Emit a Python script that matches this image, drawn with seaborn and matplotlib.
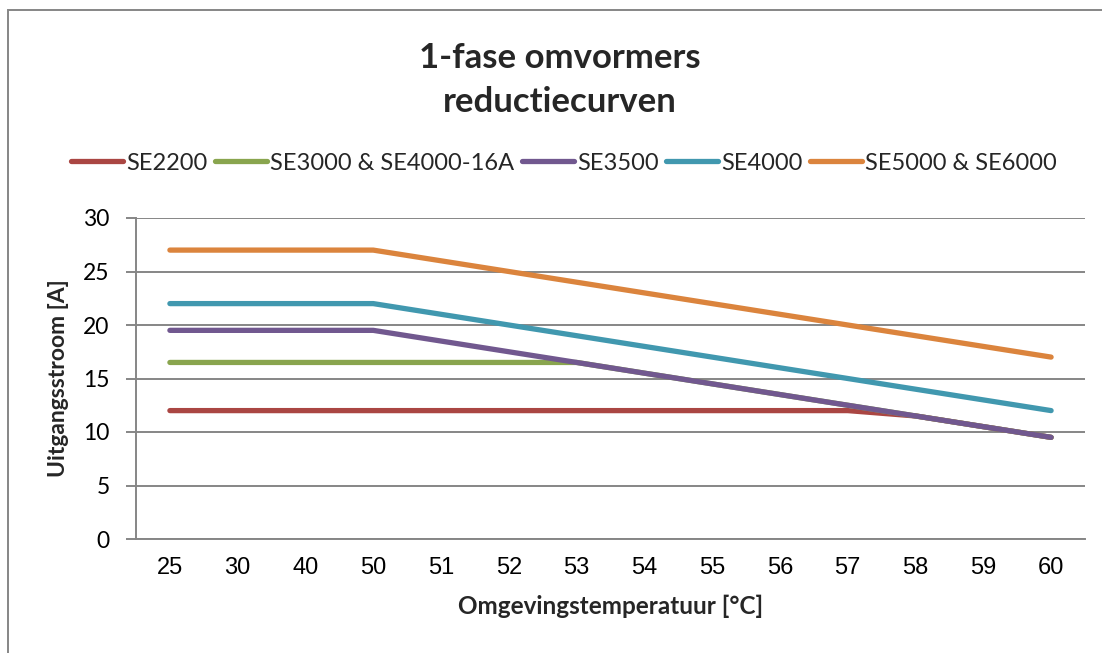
import pandas as pd
import matplotlib.pyplot as plt
import seaborn as sns
from matplotlib.patches import Rectangle

# Data (categorical x axis, as in Excel)
temperatures = ['25', '30', '40', '50', '51', '52', '53', '54', '55', '56', '57', '58', '59', '60']

se2200 = [12, 12, 12, 12, 12, 12, 12, 12, 12, 12, 12, 11.5, 10.5, 9.5]
se3000 = [16.5, 16.5, 16.5, 16.5, 16.5, 16.5, 16.5, 15.5, 14.5, 13.5, 12.5, 11.5, 10.5, 9.5]
se3500 = [19.5, 19.5, 19.5, 19.5, 18.5, 17.5, 16.5, 15.5, 14.5, 13.5, 12.5, 11.5, 10.5, 9.5]
se4000 = [22, 22, 22, 22, 21, 20, 19, 18, 17, 16, 15, 14, 13, 12]
se5000 = [27, 27, 27, 27, 26, 25, 24, 23, 22, 21, 20, 19, 18, 17]

series_names = ['SE2200', 'SE3000 & SE4000-16A', 'SE3500', 'SE4000', 'SE5000 & SE6000']
series_values = [se2200, se3000, se3500, se4000, se5000]
series_colors = ['#AA4643', '#89A54E', '#71588F', '#4198AF', '#DB843D']

GRID = '#868686'


def setup_style():
    sns.set_theme(style="white")
    plt.rcParams['font.family'] = ['Lato', 'DejaVu Sans']


def plot_reductiecurven():
    setup_style()

    frames = []
    for name, vals in zip(series_names, series_values):
        frames.append(pd.DataFrame({'temp': temperatures, 'stroom': vals, 'serie': name}))
    df = pd.concat(frames, ignore_index=True)

    fig = plt.figure(figsize=(11.02, 6.53), dpi=100)
    ax = fig.add_axes([136 / 1102, 1 - 539 / 653, (1085 - 136) / 1102, (539 - 218) / 653])

    sns.lineplot(data=df, x='temp', y='stroom', hue='serie', hue_order=series_names,
                 palette=series_colors, sort=False, linewidth=3.8, ax=ax,
                 solid_capstyle='round', legend=True)

    ax.set_xlim(-0.5, len(temperatures) - 0.5)
    ax.set_ylim(0, 30)
    ax.set_yticks(range(0, 31, 5))
    ax.yaxis.grid(True, color=GRID, linewidth=1.4)
    ax.set_axisbelow(True)
    for side in ['top', 'right']:
        ax.spines[side].set_visible(False)
    for side in ['left', 'bottom']:
        ax.spines[side].set_color(GRID)
        ax.spines[side].set_linewidth(1.4)
    ax.tick_params(axis='y', length=7, width=1.4, color=GRID, left=True, pad=12)
    ax.tick_params(axis='x', length=0, pad=13)
    for lab in ax.get_xticklabels():
        lab.set_family('Liberation Sans')
        lab.set_fontsize(17)
        lab.set_color('black')
    for lab in ax.get_yticklabels():
        lab.set_fontsize(16.5)
        lab.set_color('black')

    ax.set_xlabel('Omgevingstemperatuur [°C]', fontsize=17.5, fontweight='bold', labelpad=11)
    ax.set_ylabel('Uitgangsstroom [A]', fontsize=16.5, fontweight='bold', labelpad=10)

    ax.legend(loc='center', bbox_to_anchor=(564 / 1102, 1 - 163 / 653),
              bbox_transform=fig.transFigure, ncol=5, frameon=False,
              fontsize=17, handlelength=2.2, handletextpad=0.15, columnspacing=0.3)

    fig.text(560 / 1102, 1 - 80 / 653, '1-fase omvormers\nreductiecurven',
             ha='center', va='center', fontsize=25, fontweight='bold', linespacing=1.45)

    # outer chart frame (Excel style)
    fig.patches.append(Rectangle((8 / 1102, -0.2), 1.2, 1.2 - 10 / 653,
                                 transform=fig.transFigure, fill=False,
                                 edgecolor=GRID, linewidth=1.4))

    plt.savefig('out.png', dpi=100)


if __name__ == "__main__":
    plot_reductiecurven()
